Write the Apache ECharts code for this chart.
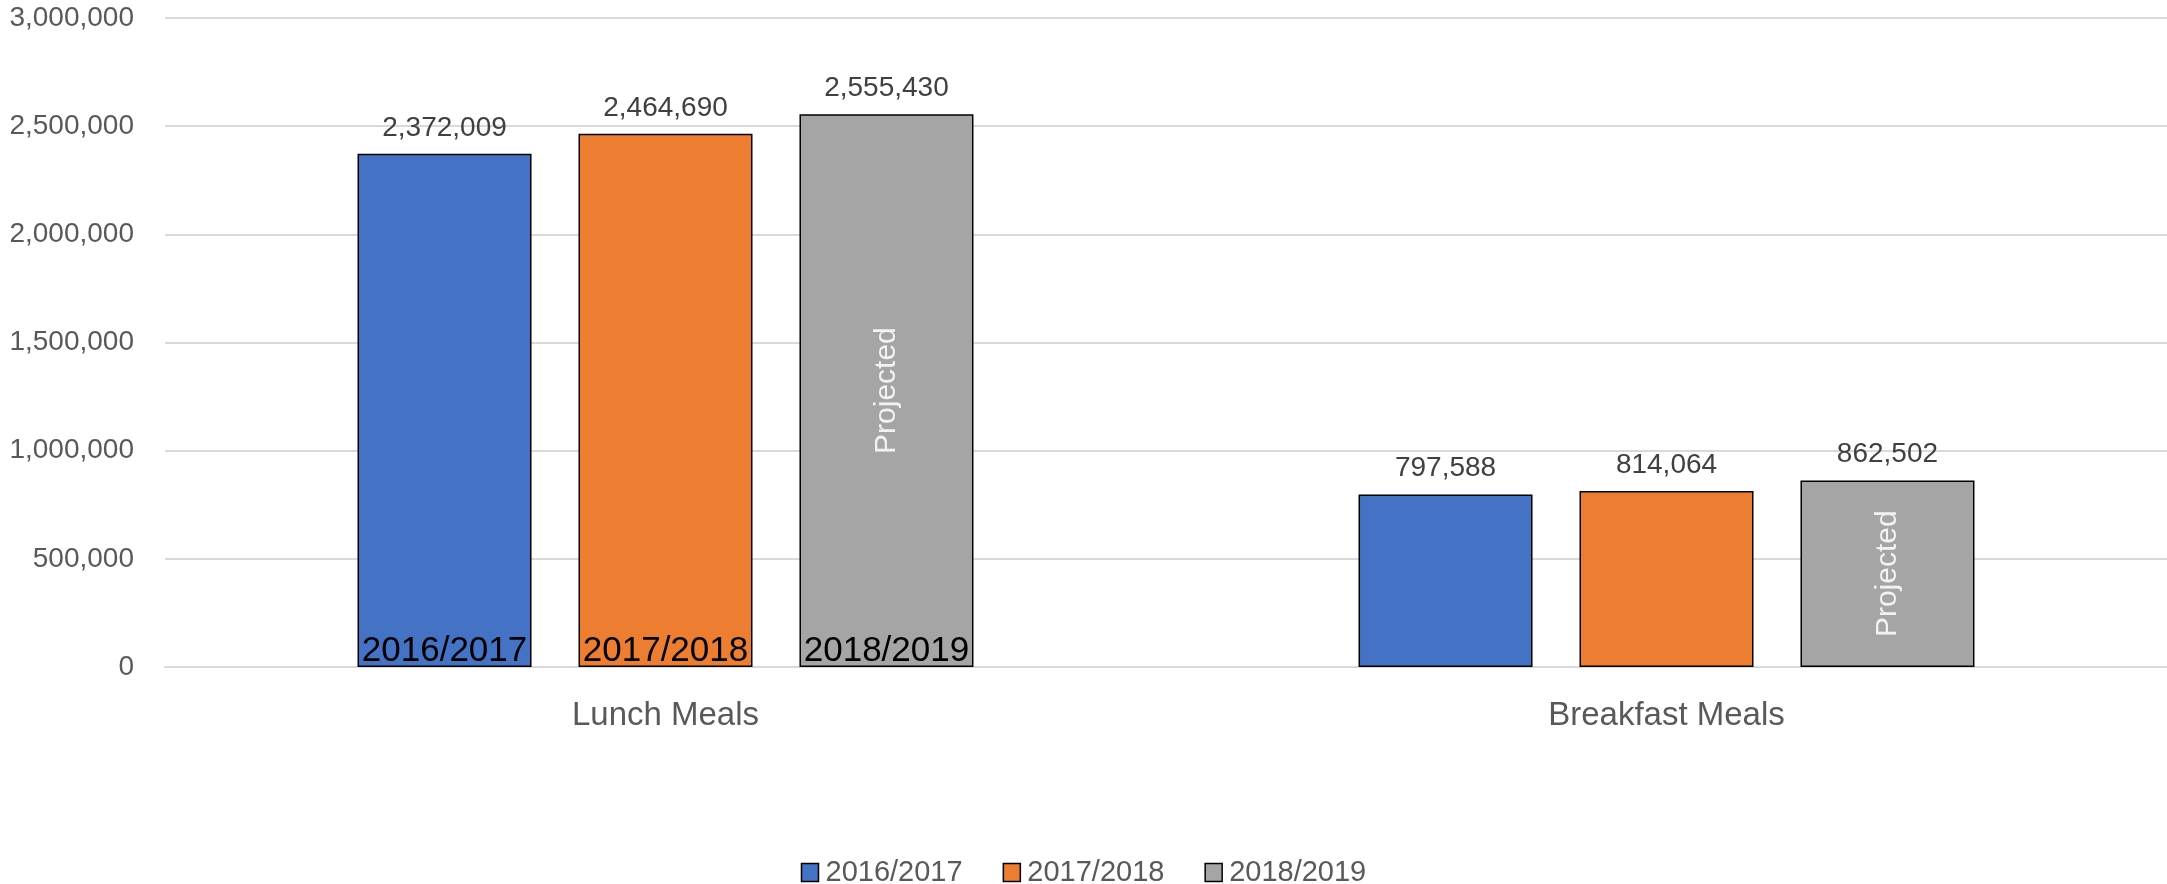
<!DOCTYPE html>
<html><head><meta charset="utf-8">
<script src="https://cdn.jsdelivr.net/npm/echarts@6/dist/echarts.min.js"></script>
<style>html,body{margin:0;padding:0;background:#fff}#c{width:2167px;height:884px}</style>
</head><body><div id="c"></div>
<script>
const categories = ['Lunch Meals', 'Breakfast Meals'];
const seriesNames = ['2016/2017', '2017/2018', '2018/2019'];
const values2016 = [2372009, 797588];
const values2017 = [2464690, 814064];
const values2018 = [2555430, 862502];
const projectedNote = 'Projected';
const yTicks = [0, 500000, 1000000, 1500000, 2000000, 2500000, 3000000];

const colors = ['#4472C4', '#ED7D31', '#A5A5A5'];
const allValues = [values2016, values2017, values2018];
const FONT = 'Liberation Sans';
const fmt = v => Number(v).toLocaleString('en-US');

const chart = echarts.init(document.getElementById('c'));
const BW = 174, GAP = '27%';
const xBase = { type: 'category', data: categories };
const series = [];
// main bars with value labels on top
allValues.forEach((vals, i) => {
  series.push({
    name: seriesNames[i], type: 'bar', xAxisIndex: 0, data: vals,
    barWidth: BW, barGap: GAP,
    itemStyle: { color: colors[i], borderColor: '#000', borderWidth: 1.5 },
    label: { show: true, position: 'top', distance: 12, formatter: p => fmt(p.value),
      fontFamily: FONT, fontSize: 28, color: '#404040' }
  });
});
// overlay: series name at bottom of the lunch bars
allValues.forEach((vals, i) => {
  series.push({
    name: 'n' + i, type: 'bar', xAxisIndex: 1, silent: true,
    barWidth: BW, barGap: GAP,
    itemStyle: { color: 'rgba(0,0,0,0)' },
    data: vals.map((v, j) => ({ value: v, label: { show: j === 0 } })),
    label: { position: 'insideBottom', distance: 0, formatter: seriesNames[i],
      fontFamily: FONT, fontSize: 35, lineHeight: 32, color: '#000' }
  });
});
// overlay: "Projected" note on the projected year
allValues.forEach((vals, i) => {
  series.push({
    name: 'p' + i, type: 'bar', xAxisIndex: 2, silent: true,
    barWidth: BW, barGap: GAP,
    itemStyle: { color: 'rgba(0,0,0,0)' },
    data: vals,
    label: { show: i === 2, position: 'inside', rotate: 90, formatter: projectedNote,
      fontFamily: FONT, fontSize: 30, color: '#f2f2f2' }
  });
});

chart.setOption({
  animation: false,
  grid: { left: 165, right: 0, top: 18, bottom: 217 },
  legend: {
    data: seriesNames, top: 853, left: 'center', itemWidth: 17, itemHeight: 18, itemGap: 40,
    icon: 'rect',
    textStyle: { fontFamily: FONT, fontSize: 29, color: '#595959', padding: [0, 0, 0, 2] },
    itemStyle: { borderColor: '#000', borderWidth: 1.5 }
  },
  xAxis: [
    Object.assign({}, xBase, {
      axisLine: { lineStyle: { color: '#d9d9d9', width: 2 } }, axisTick: { show: false },
      axisLabel: { fontFamily: FONT, fontSize: 33, color: '#595959', margin: 32 }
    }),
    Object.assign({}, xBase, { show: false }),
    Object.assign({}, xBase, { show: false })
  ],
  yAxis: {
    type: 'value', min: yTicks[0], max: yTicks[yTicks.length - 1], interval: yTicks[1] - yTicks[0],
    axisLabel: { formatter: v => fmt(v), fontFamily: FONT, fontSize: 28, color: '#595959', margin: 31 },
    splitLine: { lineStyle: { color: '#d9d9d9', width: 2 } },
    axisLine: { show: false }, axisTick: { show: false }
  },
  series: series
});
</script></body></html>
